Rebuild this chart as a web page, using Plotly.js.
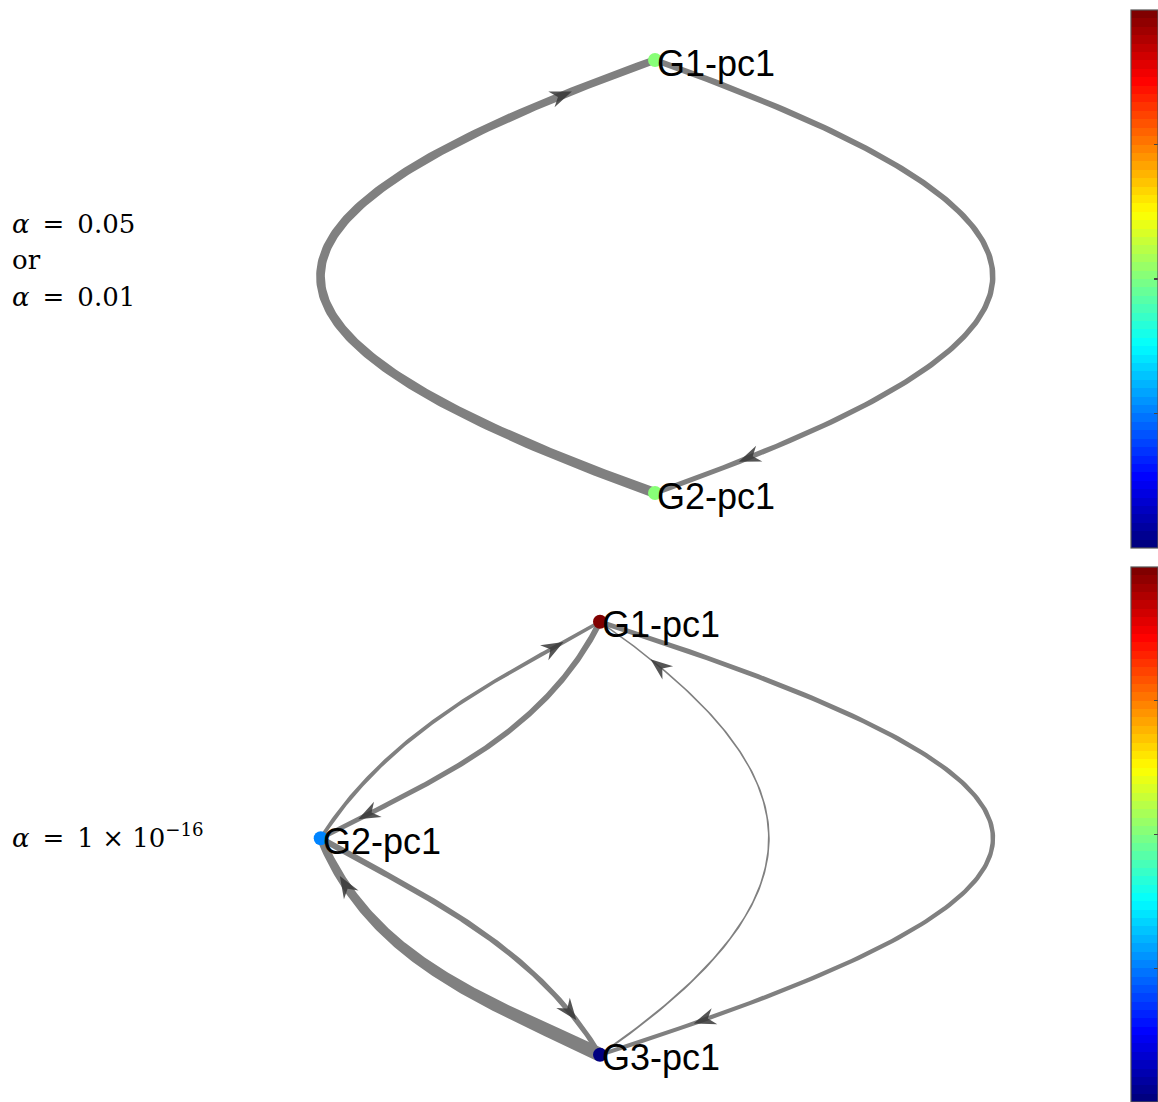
<!DOCTYPE html>
<html><head><meta charset="utf-8">
<script src="https://cdn.plot.ly/plotly-3.0.1.min.js"></script>
<style>html,body{margin:0;padding:0;background:#fff}</style>
</head><body><div id="chart" style="width:1158px;height:1102px"></div>
<script>
// ---------- Panel A: alpha = 0.05 or alpha = 0.01 ----------
const nodesA = ['G1-pc1', 'G2-pc1'];
const nodeXA = [0, 0];
const nodeYA = [1, -1];
const nodeValA = [0.5, 0.5];
const edgeSrcA = [1, 0];
const edgeTgtA = [0, 1];
const edgeWidthSrcA = [10, 6];
const edgeWidthTgtA = [7.5, 5];
const edgeBendSrcA = [1.03, 1.04];
const edgeBendTgtA = [1.03, 1.04];
const edgeSpanA = [0.37, 0.37];

// ---------- Panel B: alpha = 1e-16 ----------
const nodesB = ['G1-pc1', 'G2-pc1', 'G3-pc1'];
const nodeXB = [0, -1.29, 0];
const nodeYB = [1, 0, -1];
const nodeValB = [1, 0.25, 0];
const edgeSrcB = [1, 0, 1, 2, 2, 0];
const edgeTgtB = [0, 1, 2, 1, 0, 2];
const edgeWidthSrcB = [4, 6, 6, 14, 2, 5];
const edgeWidthTgtB = [3.5, 4.5, 5, 8, 1.5, 4];
const edgeBendSrcB = [0.12, 0.16, 0.05, 0.07, -0.52, 1.21];
const edgeBendTgtB = [0.05, 0.06, 0.13, 0.19, -0.52, 1.21];
const edgeSpanB = [0.333, 0.333, 0.333, 0.333, 0.36, 0.39];

// ---------- Text ----------
const rowLabelA = ['<i>α</i>\u2002=\u20020.05', 'or', '<i>α</i>\u2002=\u20020.01'];
const rowLabelB = '<i>α</i>\u2002=\u20021 × 10<sup>−16</sup>';
const colorbarTicks = [0.25, 0.5, 0.75];

// ---------- Layout constants ----------
const W = 1158, H = 1102;
const SCALE = 216.5;               // px per layout unit
const originA = [655, 276.5];      // px position of layout origin, panel A
const originB = [600, 838.3];      // px position of layout origin, panel B
const EDGE_COLOR = 'rgb(128,128,128)';
const ARROW_COLOR = 'rgba(55,55,55,0.85)';
const ARROW_LEN = 22, ARROW_HALF = 8.5, ARROW_NOTCH = 7;

function clamp(v) { return Math.max(0, Math.min(1, v)); }
function jet(v) {
  const r = clamp(1.5 - Math.abs(4 * v - 3));
  const g = clamp(1.5 - Math.abs(4 * v - 2));
  const b = clamp(1.5 - Math.abs(4 * v - 1));
  return 'rgb(' + Math.round(r * 255) + ',' + Math.round(g * 255) + ',' + Math.round(b * 255) + ')';
}
const jetScale = [];
for (let i = 0; i < 64; i++) {
  const c = jet(i / 63);
  jetScale.push([i / 64, c]);
  jetScale.push([(i + 1) / 64, c]);
}

function bez(P, t) {
  const u = 1 - t;
  const a = u * u * u, b = 3 * u * u * t, c = 3 * u * t * t, d = t * t * t;
  return [a * P[0][0] + b * P[1][0] + c * P[2][0] + d * P[3][0],
          a * P[0][1] + b * P[1][1] + c * P[2][1] + d * P[3][1]];
}
function bezD(P, t) {
  const u = 1 - t;
  const a = 3 * u * u, b = 6 * u * t, c = 3 * t * t;
  return [a * (P[1][0] - P[0][0]) + b * (P[2][0] - P[1][0]) + c * (P[3][0] - P[2][0]),
          a * (P[1][1] - P[0][1]) + b * (P[2][1] - P[1][1]) + c * (P[3][1] - P[2][1])];
}

function buildPanel(names, X, Y, vals, src, tgt, w0, w1, bendS, bendT, span, xa, ya, cbY, cbLen) {
  const edgeTraces = [], arrowTraces = [];
  for (let e = 0; e < src.length; e++) {
    const p0 = [X[src[e]], Y[src[e]]], p3 = [X[tgt[e]], Y[tgt[e]]];
    const dx = p3[0] - p0[0], dy = p3[1] - p0[1];
    const L = Math.hypot(dx, dy);
    const c = [dx / L, dy / L], n = [-c[1], c[0]];
    const s = span[e] * L, h1 = bendS[e] * L, h2 = bendT[e] * L;
    const P = [p0,
      [p0[0] + s * c[0] + h1 * n[0], p0[1] + s * c[1] + h1 * n[1]],
      [p3[0] - s * c[0] + h2 * n[0], p3[1] - s * c[1] + h2 * n[1]],
      p3];
    const N = 150;
    const pts = [], tans = [], arc = [0];
    for (let i = 0; i <= N; i++) {
      const t = i / N;
      pts.push(bez(P, t));
      const d = bezD(P, t);
      const m = Math.hypot(d[0], d[1]) || 1;
      tans.push([d[0] / m, d[1] / m]);
      if (i > 0) arc.push(arc[i - 1] + Math.hypot(pts[i][0] - pts[i - 1][0], pts[i][1] - pts[i - 1][1]));
    }
    const total = arc[N];
    const lx = [], ly = [], rx = [], ry = [];
    for (let i = 0; i <= N; i++) {
      const f = arc[i] / total;
      const hw = (w0[e] + (w1[e] - w0[e]) * f) / 2 / SCALE;
      const nn = [-tans[i][1], tans[i][0]];
      lx.push(pts[i][0] + nn[0] * hw); ly.push(pts[i][1] + nn[1] * hw);
      rx.push(pts[i][0] - nn[0] * hw); ry.push(pts[i][1] - nn[1] * hw);
    }
    const px = lx.concat(rx.reverse()); px.push(lx[0]);
    const py = ly.concat(ry.reverse()); py.push(ly[0]);
    edgeTraces.push({type: 'scatter', mode: 'lines', x: px, y: py, xaxis: xa, yaxis: ya,
      fill: 'toself', fillcolor: EDGE_COLOR, line: {width: 0, color: EDGE_COLOR},
      hoverinfo: 'skip', showlegend: false});
    // arrow head (notched), tip placed along the curve near the target
    const target = total - (0.1 * total + 6 / SCALE);
    let k = 1; while (k < N && arc[k] < target) k++;
    const fr = (target - arc[k - 1]) / (arc[k] - arc[k - 1]);
    const tip = [pts[k - 1][0] + fr * (pts[k][0] - pts[k - 1][0]), pts[k - 1][1] + fr * (pts[k][1] - pts[k - 1][1])];
    const d = tans[k], q = [-d[1], d[0]];
    const l = ARROW_LEN / SCALE, hw = ARROW_HALF / SCALE, nt = (ARROW_LEN - ARROW_NOTCH) / SCALE;
    const ax = [tip[0], tip[0] - d[0] * l + q[0] * hw, tip[0] - d[0] * nt, tip[0] - d[0] * l - q[0] * hw, tip[0]];
    const ay = [tip[1], tip[1] - d[1] * l + q[1] * hw, tip[1] - d[1] * nt, tip[1] - d[1] * l - q[1] * hw, tip[1]];
    arrowTraces.push({type: 'scatter', mode: 'lines', x: ax, y: ay, xaxis: xa, yaxis: ya,
      fill: 'toself', fillcolor: ARROW_COLOR, line: {width: 0, color: ARROW_COLOR},
      hoverinfo: 'skip', showlegend: false});
  }
  const nodeTrace = {type: 'scatter', mode: 'markers', x: X, y: Y, xaxis: xa, yaxis: ya,
    marker: {size: 14, color: vals, colorscale: jetScale, cmin: 0, cmax: 1, showscale: true,
      line: {width: 0},
      colorbar: {x: 1131 / W, xanchor: 'left', xpad: 0, ypad: 0, y: cbY, yanchor: 'top', len: cbLen,
        lenmode: 'fraction', thickness: 27, thicknessmode: 'pixels', outlinewidth: 1.2,
        outlinecolor: '#555', borderwidth: 0, tickvals: colorbarTicks, ticks: 'inside', ticklen: 4,
        tickcolor: '#444', tickwidth: 1.2, showticklabels: false}},
    text: names, hoverinfo: 'text', showlegend: false};
  return edgeTraces.concat(arrowTraces, [nodeTrace]);
}

const traces = [].concat(
  buildPanel(nodesA, nodeXA, nodeYA, nodeValA, edgeSrcA, edgeTgtA, edgeWidthSrcA, edgeWidthTgtA,
    edgeBendSrcA, edgeBendTgtA, edgeSpanA, 'x', 'y', 1 - 10 / H, 538 / H),
  buildPanel(nodesB, nodeXB, nodeYB, nodeValB, edgeSrcB, edgeTgtB, edgeWidthSrcB, edgeWidthTgtB,
    edgeBendSrcB, edgeBendTgtB, edgeSpanB, 'x2', 'y2', 1 - 567 / H, (H - 567) / H)
);

const annotations = [];
function nodeLabels(names, X, Y, xr, yr) {
  names.forEach((nm, i) => annotations.push({xref: xr, yref: yr, x: X[i], y: Y[i], text: nm,
    showarrow: false, xanchor: 'left', yanchor: 'middle', xshift: 0, yshift: -3,
    font: {family: 'Liberation Sans, Arial, sans-serif', size: 36, color: '#000'}}));
}
nodeLabels(nodesA, nodeXA, nodeYA, 'x', 'y');
nodeLabels(nodesB, nodeXB, nodeYB, 'x2', 'y2');
const mathFont = {family: 'DejaVu Serif, serif', size: 26, color: '#000'};
const rowYA = [224, 260, 297];
rowLabelA.forEach((t, i) => annotations.push({xref: 'paper', yref: 'paper', x: 10 / W, y: 1 - rowYA[i] / H,
  text: t, showarrow: false, xanchor: 'left', yanchor: 'middle', font: mathFont}));
annotations.push({xref: 'paper', yref: 'paper', x: 10 / W, y: 1 - 836 / H, text: rowLabelB,
  showarrow: false, xanchor: 'left', yanchor: 'middle', font: mathFont});

const hidden = {visible: false, showgrid: false, zeroline: false, fixedrange: true};
const layout = {
  width: W, height: H, margin: {l: 0, r: 0, t: 0, b: 0, autoexpand: false},
  paper_bgcolor: '#fff', plot_bgcolor: '#fff', showlegend: false,
  xaxis: Object.assign({domain: [0, 1], range: [-originA[0] / SCALE, (W - originA[0]) / SCALE]}, hidden),
  yaxis: Object.assign({domain: [0.5, 1], range: [(originA[1] - H / 2) / SCALE, originA[1] / SCALE]}, hidden),
  xaxis2: Object.assign({domain: [0, 1], anchor: 'y2', range: [-originB[0] / SCALE, (W - originB[0]) / SCALE]}, hidden),
  yaxis2: Object.assign({domain: [0, 0.5], anchor: 'x2', range: [(originB[1] - H) / SCALE, (originB[1] - H / 2) / SCALE]}, hidden),
  annotations: annotations
};
Plotly.newPlot('chart', traces, layout, {displayModeBar: false, staticPlot: true});
</script></body></html>
